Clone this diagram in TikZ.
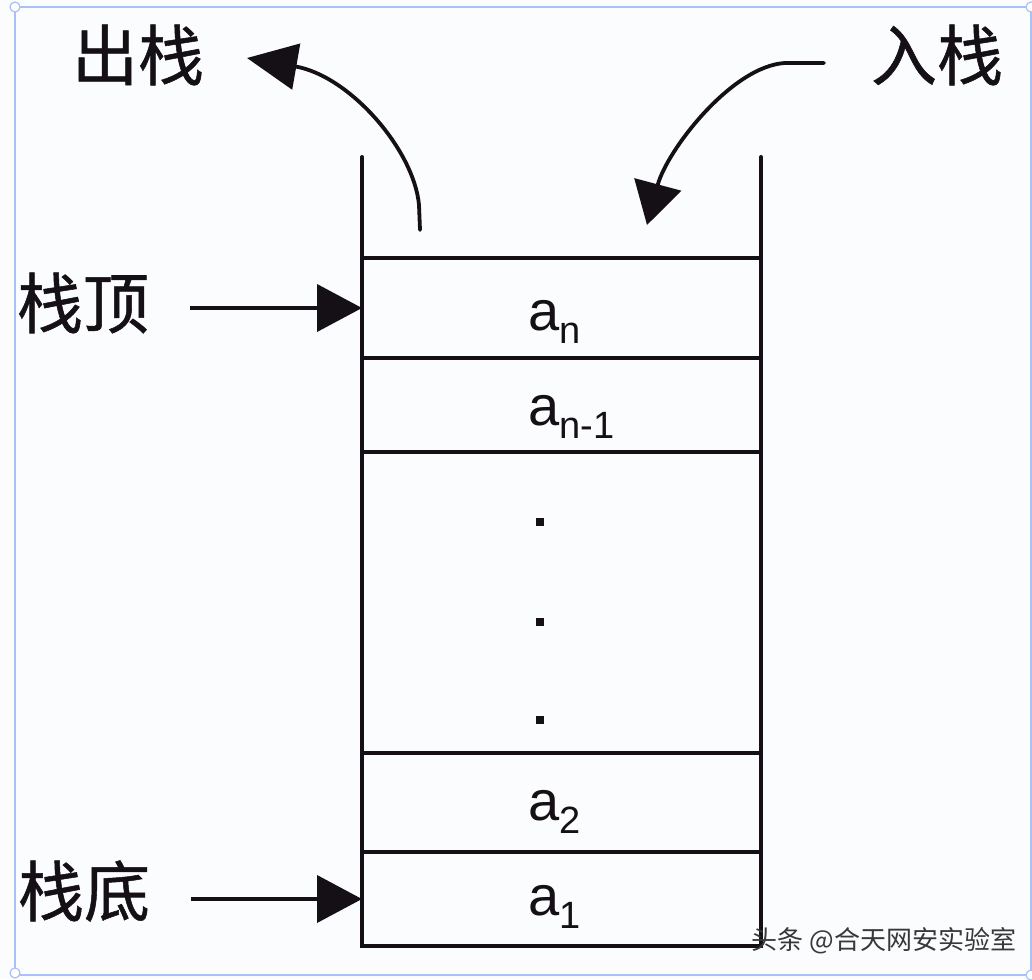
\documentclass[tikz,border=0pt]{standalone}
\usepackage{fontspec}
\setmainfont{Liberation Sans}
\newfontfamily\cjk[FakeBold=0.8]{Noto Sans CJK SC}
\newfontfamily\cjkwm{Noto Sans CJK SC}
\usetikzlibrary{arrows.meta,calc}
\definecolor{frameblue}{HTML}{A9C1F7}
\definecolor{ink}{HTML}{151015}
\definecolor{paper}{HTML}{FBFCFE}
\newcommand\subidx[1]{\raisebox{-13pt}{\fontsize{38}{38}\selectfont #1}}
\begin{document}
\begin{tikzpicture}[x=1pt,y=-1pt,
  wall/.style={draw=ink, line width=4pt, line cap=round},
  row/.style={draw=ink, line width=4pt, minimum width=399pt, inner sep=0pt, outer sep=0pt},
  elem/.style={text=ink, font=\fontsize{56}{56}\selectfont, inner sep=0pt, anchor=base west},
  dotsq/.style={fill=ink, minimum size=8pt, inner sep=0pt},
  lbl/.style={text=ink, font=\cjk\fontsize{66}{66}\selectfont, inner sep=0pt},
  ptr/.style={draw=ink, line width=4pt, -{Triangle[length=45pt,width=47pt]}},
  curvearrow/.style={draw=ink, line width=3.8pt, line cap=round},
  corner/.style={draw=frameblue, fill=white, line width=1.2pt}
]
\useasboundingbox (0,0) rectangle (1032,979);
\fill[paper] (0,0) rectangle (1032,979);
% frame
\draw[frameblue, line width=1.5pt] (15,7) rectangle (1031,975);
\draw[corner] (15,7) circle[radius=5pt];
\draw[corner] (15,973) circle[radius=5pt];
\draw[corner] (1031,7) circle[radius=5pt];
\draw[corner] (1031,975) circle[radius=5pt];

% stack rows
\node[row, minimum height=100pt] (r1) at (561.5,308) {};
\node[row, minimum height=94pt] (r2) at (561.5,405) {};
\node[row, minimum height=301pt] (rmid) at (561.5,602.5) {};
\node[row, minimum height=99pt] (r3) at (561.5,802.5) {};
\node[row, minimum height=94pt] (r4) at (561.5,899) {};

% walls
\coordinate (wl) at (362,157);
\coordinate (wr) at (761,157);
\draw[wall] (wl) -- (r1.north west);
\draw[wall] (wr) -- (r1.north east);

% elements
\node[elem] (tan) at (528,330) {a\subidx{n}};
\node[elem] (tan1) at (528,425) {a\subidx{n-1}};
\node[elem] (ta2) at (528,820) {a\subidx{2}};
\node[elem] (ta1) at (528,915) {a\subidx{1}};
\node[dotsq] (d1) at (540,522) {};
\node[dotsq] (d2) at (540,622) {};
\node[dotsq] (d3) at (540,720) {};

% labels
\node[lbl] (ltop) at (83,303) {栈顶};
\node[lbl] (lbot) at (84,891) {栈底};
\node[lbl] (lout) at (138,55) {出栈};
\node[lbl] (lin) at (937,55) {入栈};

% pointers
\draw[ptr] ($(r1.west -| ltop.east)+(41,0)$) -- (r1.west);
\draw[ptr] ($(r4.west -| lbot.east)+(41,0)$) -- (r4.west);

% pop / push curves
\coordinate (popfoot) at (420,230);
\coordinate (poptip) at (247,58);
\draw[curvearrow, -{Triangle[length=50pt,width=46pt]}] (popfoot) -- (419,205) .. controls (414,150) and (350,76) .. (poptip);
\coordinate (pushtail) at (824,63);
\coordinate (pushtip) at (647,225);
\draw[curvearrow, -{Triangle[length=42pt,width=48pt]}] (pushtail) -- (785,63) .. controls (732,66) and (667,150) .. (pushtip);

% watermark
\node[font=\cjkwm\fontsize{26}{26}\selectfont, text=black!78, inner sep=0pt] (wm) at (884,941) {头条 @合天网安实验室};
\end{tikzpicture}
\end{document}
